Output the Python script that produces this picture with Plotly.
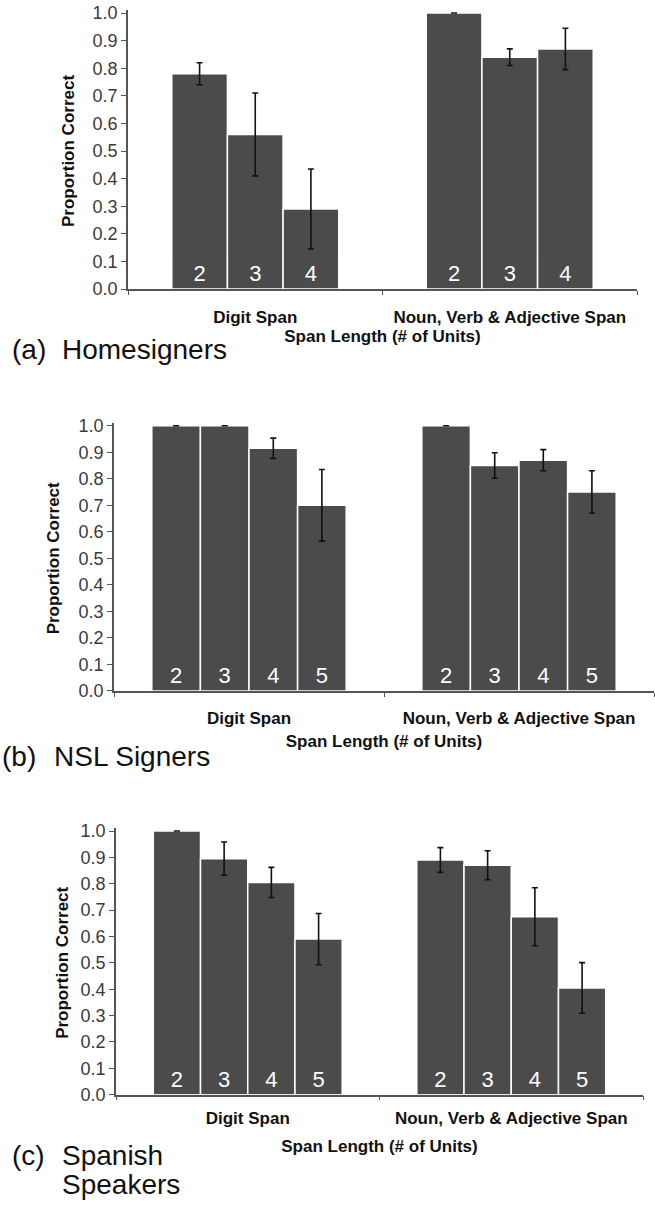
import plotly.graph_objects as go

W, H = 655, 1205

# ---------------- data ----------------
categories = ["Digit Span", "Noun, Verb & Adjective Span"]

spans_a = ["2", "3", "4"]
digit_a = [0.78, 0.56, 0.29]
digit_a_err = [0.04, 0.15, 0.145]
noun_a = [1.00, 0.84, 0.87]
noun_a_err = [0.0, 0.03, 0.075]

spans_b = ["2", "3", "4", "5"]
digit_b = [1.00, 1.00, 0.915, 0.70]
digit_b_err = [0.0, 0.0, 0.038, 0.135]
noun_b = [1.00, 0.85, 0.87, 0.75]
noun_b_err = [0.0, 0.048, 0.04, 0.08]

spans_c = ["2", "3", "4", "5"]
digit_c = [1.00, 0.895, 0.805, 0.59]
digit_c_err = [0.0, 0.063, 0.057, 0.097]
noun_c = [0.89, 0.87, 0.675, 0.405]
noun_c_err = [0.047, 0.055, 0.11, 0.096]

y_ticks = [0.0, 0.1, 0.2, 0.3, 0.4, 0.5, 0.6, 0.7, 0.8, 0.9, 1.0]
x_title = "Span Length (# of Units)"
y_title = "Proportion Correct"

# ---------------- layout geometry (pixels) ----------------
BAR = "#4b4b4b"
AX = "#555555"
TXT = "#3a3a3a"
FONT = "Liberation Sans, Arial, sans-serif"
YMAX = 1.01

panels = [
    dict(spans=spans_a, digit=digit_a, digit_err=digit_a_err, noun=noun_a, noun_err=noun_a_err,
         x0=128, x1=637, y0=289, y1=13, group=0.656, lab_standoff=12, title_standoff=1, ytitle_x=68),
    dict(spans=spans_b, digit=digit_b, digit_err=digit_b_err, noun=noun_b, noun_err=noun_b_err,
         x0=114, x1=654, y0=691, y1=425.7, group=0.72, lab_standoff=11, title_standoff=8, ytitle_x=53),
    dict(spans=spans_c, digit=digit_c, digit_err=digit_c_err, noun=noun_c, noun_err=noun_c_err,
         x0=116, x1=643, y0=1094.7, y1=831, group=0.717, lab_standoff=7, title_standoff=13, ytitle_x=63),
]


def px_x(x):
    return x / W


def px_y(y):
    return 1 - y / H


fig = go.Figure()
layout = dict(
    width=W, height=H, margin=dict(l=0, r=0, t=0, b=0),
    paper_bgcolor="white", plot_bgcolor="white",
    showlegend=False, barmode="overlay",
    font=dict(family=FONT, color=TXT),
)
ann = []

for k, p in enumerate(panels, start=1):
    xa = "x" if k == 1 else f"x{k}"
    ya = "y" if k == 1 else f"y{k}"
    n = len(p["spans"])
    bw = p["group"] / n
    for i, s in enumerate(p["spans"]):
        fig.add_trace(go.Bar(
            x=categories,
            y=[p["digit"][i], p["noun"][i]],
            error_y=dict(type="data", array=[p["digit_err"][i], p["noun_err"][i]],
                         color="#111111", thickness=1.6, width=3),
            width=bw, offset=-p["group"] / 2 + i * bw,
            marker=dict(color=BAR, line=dict(color="white", width=1.5)),
            text=[s, s], textposition="inside", insidetextanchor="start",
            textangle=0, constraintext="none",
            textfont=dict(color="white", size=22, family=FONT),
            xaxis=xa, yaxis=ya, hoverinfo="skip",
        ))
    top = p["y0"] - YMAX * (p["y0"] - p["y1"])
    layout["xaxis" if k == 1 else f"xaxis{k}"] = dict(
        domain=[px_x(p["x0"]), px_x(p["x1"])],
        anchor=ya, type="category", categoryorder="array", categoryarray=categories,
        range=[-0.5, 1.5], tickson="boundaries", ticks="outside", ticklen=4,
        tickcolor=AX, showline=True, linecolor=AX, linewidth=1.5,
        showgrid=False, zeroline=False, ticklabelstandoff=p["lab_standoff"],
        tickfont=dict(size=17, weight="bold", color="#111111", family=FONT),
        title=dict(text=x_title, standoff=p["title_standoff"],
                   font=dict(size=17, weight="bold", color="#111111", family=FONT)),
        automargin=False,
    )
    layout["yaxis" if k == 1 else f"yaxis{k}"] = dict(
        domain=[px_y(p["y0"]), px_y(top)],
        anchor=xa, range=[0, YMAX], tickvals=y_ticks, tickformat=".1f",
        ticks="outside", ticklen=5, tickcolor=AX, showline=True,
        linecolor=AX, linewidth=1.5, showgrid=False, zeroline=False,
        tickfont=dict(size=18, color=TXT, family=FONT),
        automargin=False,
    )
    ann.append(dict(text=y_title, x=px_x(p["ytitle_x"]), y=px_y((p["y0"] + p["y1"]) / 2),
                    xref="paper", yref="paper", xanchor="center", yanchor="middle",
                    textangle=-90, showarrow=False,
                    font=dict(size=17, weight="bold", color="#111111", family=FONT)))

labels = [
    ("(a)", 10, 349), ("Homesigners", 60, 349),
    ("(b)", 0, 756), ("NSL Signers", 52, 756),
    ("(c)", 10, 1155), ("Spanish", 60, 1155), ("Speakers", 60, 1184),
]
for t, x, y in labels:
    ann.append(dict(text=t, x=px_x(x), y=px_y(y), xref="paper", yref="paper",
                    xanchor="left", yanchor="middle", align="left", showarrow=False,
                    font=dict(size=28, color="#111111", family=FONT)))
layout["annotations"] = ann

fig.update_layout(**layout)
fig.write_html("out.html", config={"displayModeBar": False},
               post_script="document.body.style.margin='0';")
